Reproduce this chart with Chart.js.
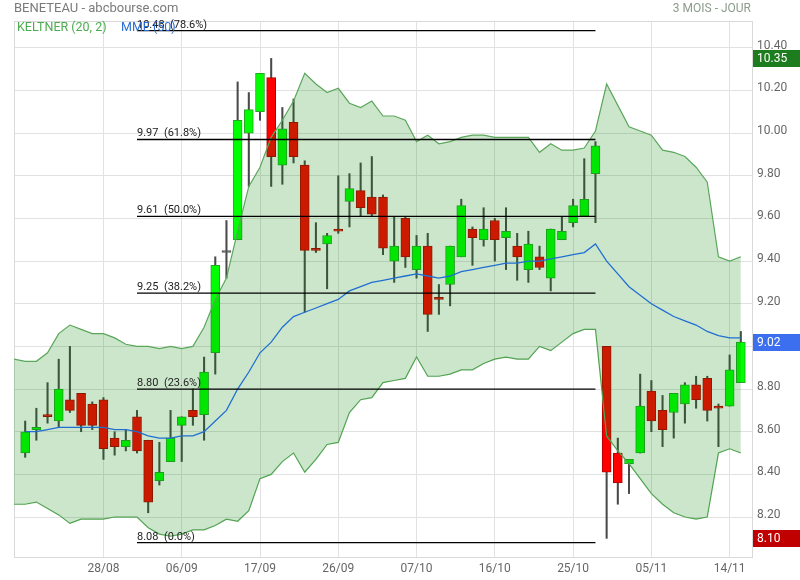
<!DOCTYPE html>
<html>
<head>
<meta charset="utf-8">
<script src="https://cdn.jsdelivr.net/npm/chart.js@4.4.1/dist/chart.umd.min.js"></script>
<style>
  html, body { margin: 0; padding: 0; background: #fff; }
</style>
</head>
<body>
<canvas id="c" width="800" height="580"></canvas>
<script>
//================================ DADES

// Séances (une bougie par jour de bourse)
const dates = [
  '19/08', '20/08', '21/08', '22/08', '23/08', '26/08', '27/08', '28/08', '29/08', '30/08',
  '02/09', '03/09', '04/09', '05/09', '06/09', '09/09', '10/09', '11/09', '12/09', '13/09',
  '16/09', '17/09', '18/09', '19/09', '20/09', '23/09', '24/09', '25/09', '26/09', '27/09',
  '30/09', '01/10', '02/10', '03/10', '04/10', '07/10', '08/10', '09/10', '10/10', '11/10',
  '14/10', '15/10', '16/10', '17/10', '18/10', '21/10', '22/10', '23/10', '24/10', '25/10',
  '28/10', '29/10', '30/10', '31/10', '01/11', '04/11', '05/11', '06/11', '07/11', '08/11',
  '11/11', '12/11', '13/11', '14/11', '15/11'
];

const opens = [
  8.50, 8.61, 8.68, 8.65, 8.75, 8.78, 8.73, 8.75, 8.57, 8.53,
  8.67, 8.56, 8.37, 8.46, 8.63, 8.70, 8.68, 8.97, 9.44, 9.50,
  10.00, 10.10, 10.26, 9.85, 10.05, 9.85, 9.46, 9.48, 9.55, 9.68,
  9.73, 9.70, 9.70, 9.40, 9.60, 9.36, 9.47, 9.23, 9.29, 9.42,
  9.55, 9.50, 9.59, 9.51, 9.47, 9.36, 9.42, 9.32, 9.50, 9.58,
  9.61, 9.81, 9.00, 8.50, 8.45, 8.50, 8.79, 8.70, 8.69, 8.73,
  8.82, 8.85, 8.72, 8.72, 8.83
];
const highs = [
  8.65, 8.71, 8.83, 8.94, 9.00, 8.78, 8.74, 8.76, 8.60, 8.61,
  8.70, 8.56, 8.55, 8.70, 8.67, 8.80, 8.95, 9.42, 9.59, 10.24,
  10.19, 10.28, 10.35, 10.12, 10.16, 9.87, 9.58, 9.53, 9.80, 9.81,
  9.86, 9.89, 9.71, 9.61, 9.61, 9.52, 9.53, 9.29, 9.47, 9.69,
  9.56, 9.65, 9.60, 9.65, 9.53, 9.54, 9.47, 9.55, 9.61, 9.69,
  9.88, 9.96, 9.00, 8.57, 8.47, 8.87, 8.84, 8.77, 8.78, 8.83,
  8.86, 8.86, 8.73, 8.96, 9.07
];
const lows = [
  8.48, 8.56, 8.64, 8.62, 8.69, 8.60, 8.61, 8.47, 8.49, 8.51,
  8.50, 8.22, 8.35, 8.46, 8.46, 8.63, 8.56, 8.87, 9.32, 9.50,
  9.75, 10.06, 9.75, 9.76, 9.86, 9.16, 9.44, 9.27, 9.53, 9.56,
  9.61, 9.61, 9.43, 9.30, 9.37, 9.32, 9.07, 9.15, 9.19, 9.42,
  9.38, 9.47, 9.40, 9.36, 9.31, 9.30, 9.36, 9.26, 9.50, 9.56,
  9.61, 9.58, 8.10, 8.26, 8.31, 8.50, 8.60, 8.53, 8.57, 8.64,
  8.71, 8.65, 8.53, 8.72, 8.83
];
const closes = [
  8.60, 8.62, 8.67, 8.80, 8.70, 8.63, 8.63, 8.52, 8.53, 8.56,
  8.51, 8.27, 8.41, 8.57, 8.67, 8.67, 8.88, 9.38, 9.44, 10.06,
  10.11, 10.28, 9.89, 10.02, 9.89, 9.45, 9.45, 9.52, 9.54, 9.74,
  9.65, 9.62, 9.46, 9.47, 9.42, 9.47, 9.15, 9.22, 9.47, 9.66,
  9.51, 9.55, 9.50, 9.54, 9.42, 9.48, 9.37, 9.55, 9.54, 9.66,
  9.69, 9.94, 8.41, 8.36, 8.47, 8.72, 8.65, 8.61, 8.78, 8.82,
  8.75, 8.70, 8.71, 8.89, 9.02
];

// Keltner (20, 2) : le premier point est la veille de la première bougie
const keltnerUpper = [
  8.94,
  8.93, 8.93, 8.97, 9.06, 9.10, 9.08, 9.06, 9.06, 9.04, 9.01,
  9.00, 9.00, 8.99, 9.00, 8.99, 9.00, 9.09, 9.22, 9.32, 9.54,
  9.75, 9.84, 9.98, 10.06, 10.15, 10.28, 10.23, 10.19, 10.21, 10.14,
  10.12, 10.15, 10.08, 10.08, 10.06, 9.96, 9.99, 9.95, 9.96, 9.98,
  9.99, 9.99, 9.98, 9.98, 9.98, 9.98, 9.91, 9.95, 9.92, 9.92,
  9.93, 10.01, 10.23, 10.13, 10.03, 10.01, 9.99, 9.92, 9.91, 9.89,
  9.84, 9.77, 9.42, 9.40, 9.42
];
const keltnerLower = [
  8.26,
  8.26, 8.27, 8.24, 8.21, 8.17, 8.19, 8.19, 8.19, 8.20, 8.20,
  8.20, 8.15, 8.12, 8.11, 8.12, 8.14, 8.14, 8.16, 8.19, 8.18,
  8.23, 8.38, 8.40, 8.46, 8.50, 8.41, 8.47, 8.54, 8.55, 8.69,
  8.75, 8.76, 8.83, 8.84, 8.85, 8.95, 8.86, 8.86, 8.87, 8.89,
  8.89, 8.92, 8.94, 8.95, 8.94, 8.94, 9.00, 8.98, 9.02, 9.06,
  9.08, 9.08, 8.58, 8.51, 8.45, 8.38, 8.31, 8.26, 8.22, 8.20,
  8.19, 8.20, 8.50, 8.52, 8.50
];

// MME (50)
const mme50 = [
  8.60, 8.60, 8.61, 8.62, 8.62, 8.62, 8.62, 8.62, 8.61, 8.61,
  8.60, 8.58, 8.57, 8.57, 8.58, 8.58, 8.60, 8.65, 8.70, 8.80,
  8.88, 8.97, 9.02, 9.09, 9.14, 9.16, 9.18, 9.20, 9.22, 9.26,
  9.28, 9.30, 9.31, 9.32, 9.33, 9.34, 9.33, 9.32, 9.33, 9.35,
  9.36, 9.37, 9.38, 9.39, 9.39, 9.40, 9.40, 9.41, 9.42, 9.43,
  9.44, 9.48, 9.40, 9.34, 9.28, 9.24, 9.20, 9.17, 9.14, 9.12,
  9.10, 9.07, 9.05, 9.04, 9.04
];

// Retracements de Fibonacci
const fibLevels = [10.48, 9.97, 9.61, 9.25, 8.80, 8.08];
const fibPct = ['78.6%', '61.8%', '50.0%', '38.2%', '23.6%', '0.0%'];
const fibFrom = 10;
const fibTo = 51;

const yTicks = [8.2, 8.4, 8.6, 8.8, 9.0, 9.2, 9.4, 9.6, 9.8, 10.0, 10.2, 10.4];
const xTickIdx = [7, 14, 21, 28, 35, 42, 49, 56, 63];

//================================ CONSTRUCTION

const FONT = 'Roboto, "DejaVu Sans", sans-serif';

const wickData = [];
const bodyData = [];
const bodyColors = [];
const bodyBorders = [];
for (let i = 0; i < dates.length; i++) {
  wickData.push({ x: i, y: [lows[i], highs[i]] });
  bodyData.push({ x: i, y: [opens[i], closes[i]] });
  if (closes[i] > opens[i]) {
    bodyColors.push('#00ff00');
    bodyBorders.push('#26a626');
  } else if (closes[i] < opens[i]) {
    bodyColors.push('#ff0000');
    bodyBorders.push('#b00000');
  } else {
    bodyColors.push('#555555');
    bodyBorders.push('#555555');
  }
}

const upData = [];
const lowData = [];
for (let k = 0; k < keltnerUpper.length; k++) {
  upData.push({ x: k - 1, y: keltnerUpper[k] });
  lowData.push({ x: k - 1, y: keltnerLower[k] });
}
const mmeData = [];
for (let j = 0; j < mme50.length; j++) {
  mmeData.push({ x: j, y: mme50[j] });
}

const datasets = [
  {
    type: 'bar', label: 'mèches', data: wickData, grouped: false,
    backgroundColor: '#4a4a4a', borderWidth: 0, barThickness: 1.4, order: 6,
  },
  {
    type: 'bar', label: 'corps', data: bodyData, grouped: false,
    backgroundColor: bodyColors, borderColor: bodyBorders, borderWidth: 1,
    borderSkipped: false, barThickness: 9, minBarLength: 2, order: 5,
  },
  {
    type: 'line', label: 'Keltner haut', data: upData,
    borderColor: '#5aa75a', borderWidth: 1.2, pointRadius: 0, tension: 0,
    fill: '+1', backgroundColor: 'rgba(0, 128, 0, 0.2)', order: 4,
  },
  {
    type: 'line', label: 'Keltner bas', data: lowData,
    borderColor: '#5aa75a', borderWidth: 1.2, pointRadius: 0, tension: 0,
    fill: false, order: 4,
  },
  {
    type: 'line', label: 'MME (50)', data: mmeData,
    borderColor: '#1f6fd1', borderWidth: 1.3, pointRadius: 0, tension: 0,
    fill: false, order: 3,
  },
];
for (let f = 0; f < fibLevels.length; f++) {
  datasets.push({
    type: 'line', label: 'fib ' + fibPct[f],
    data: [{ x: fibFrom, y: fibLevels[f] }, { x: fibTo, y: fibLevels[f] }],
    borderColor: '#000000', borderWidth: 1.3, pointRadius: 0, fill: false, order: 1,
  });
}

//================================ PLUGIN (textes, cadre, étiquettes)

const decorPlugin = {
  id: 'decor',
  beforeDatasetsDraw (chart) {
    const a = chart.chartArea;
    const ctx = chart.ctx;
    ctx.save();
    ctx.strokeStyle = '#d9d9d9';
    ctx.lineWidth = 1;
    ctx.strokeRect(Math.round(a.left) + 0.5, Math.round(a.top) + 0.5, a.right - a.left, a.bottom - a.top);
    ctx.restore();
  },
  afterDatasetsDraw (chart) {
    const ctx = chart.ctx;
    const xs = chart.scales.x;
    const ys = chart.scales.y;
    ctx.save();
    ctx.font = '11px ' + FONT;
    ctx.fillStyle = '#222222';
    ctx.textAlign = 'left';
    ctx.textBaseline = 'alphabetic';
    for (let f = 0; f < fibLevels.length; f++) {
      const px = xs.getPixelForValue(fibFrom);
      const py = ys.getPixelForValue(fibLevels[f]);
      ctx.fillText(fibLevels[f].toFixed(2) + '  (' + fibPct[f] + ')', px, py - 3);
    }
    ctx.restore();
  },
  afterDraw (chart) {
    const ctx = chart.ctx;
    const ys = chart.scales.y;
    const right = chart.chartArea.right;
    ctx.save();

    // en-tête
    ctx.textBaseline = 'middle';
    ctx.font = '13px ' + FONT;
    ctx.fillStyle = '#7a7a7a';
    ctx.textAlign = 'left';
    ctx.fillText('BENETEAU - abcbourse.com', 14, 9);
    ctx.font = '12px ' + FONT;
    ctx.fillStyle = '#8c9c8c';
    ctx.textAlign = 'right';
    ctx.fillText('3 MOIS - JOUR', 751, 9);

    // légende
    ctx.textAlign = 'left';
    ctx.font = '12.5px ' + FONT;
    ctx.fillStyle = '#4cab4c';
    ctx.fillText('KELTNER (20, 2)', 17, 28);
    ctx.fillStyle = '#2a6fd3';
    ctx.fillText('MME (50)', 121, 28);

    // étiquettes de prix
    let hi = highs[0];
    let lo = lows[0];
    for (let i = 1; i < highs.length; i++) {
      if (highs[i] > hi) { hi = highs[i]; }
      if (lows[i] < lo) { lo = lows[i]; }
    }
    const tags = [
      { v: hi, c: '#1d7c1d' },
      { v: closes[closes.length - 1], c: '#3b6ff0' },
      { v: lo, c: '#c00000' },
    ];
    ctx.font = '12px ' + FONT;
    for (let t = 0; t < tags.length; t++) {
      const py = Math.round(ys.getPixelForValue(tags[t].v));
      ctx.fillStyle = tags[t].c;
      ctx.fillRect(right + 1, py - 8, 800 - right - 1, 17);
      ctx.fillStyle = '#ffffff';
      ctx.fillText(tags[t].v.toFixed(2), right + 5, py + 1);
    }
    ctx.restore();
  },
};

//================================ GRAPHIQUE

new Chart(document.getElementById('c'), {
  type: 'bar',
  data: { datasets },
  options: {
    responsive: false,
    animation: false,
    layout: { padding: { left: 14, top: 21, right: 0, bottom: 0 } },
    plugins: {
      legend: { display: false },
      tooltip: { enabled: false },
      title: { display: false },
    },
    scales: {
      x: {
        type: 'linear',
        min: -1,
        max: 65,
        offset: false,
        afterBuildTicks (s) {
          const t = [];
          for (let i = 0; i < xTickIdx.length; i++) { t.push({ value: xTickIdx[i] }); }
          s.ticks = t;
        },
        afterFit (s) { s.height = 23; },
        ticks: {
          autoSkip: false, maxRotation: 0, padding: 5, color: '#666666',
          font: { family: FONT, size: 12 },
          callback (v) { return dates[v]; },
        },
        grid: { color: '#e2e2e2', drawTicks: false, offset: false },
        border: { color: '#d9d9d9' },
      },
      y: {
        position: 'right',
        min: 8.0126,
        max: 10.5255,
        afterBuildTicks (s) {
          const t = [];
          for (let i = 0; i < yTicks.length; i++) { t.push({ value: yTicks[i] }); }
          s.ticks = t;
        },
        afterFit (s) { s.width = 48; },
        ticks: {
          padding: 5, labelOffset: -2, color: '#666666',
          font: { family: FONT, size: 12 },
          callback (v) { return Number(v).toFixed(2); },
        },
        grid: { color: '#e2e2e2', drawTicks: false },
        border: { color: '#d9d9d9' },
      },
    },
  },
  plugins: [decorPlugin],
});
</script>
</body>
</html>
